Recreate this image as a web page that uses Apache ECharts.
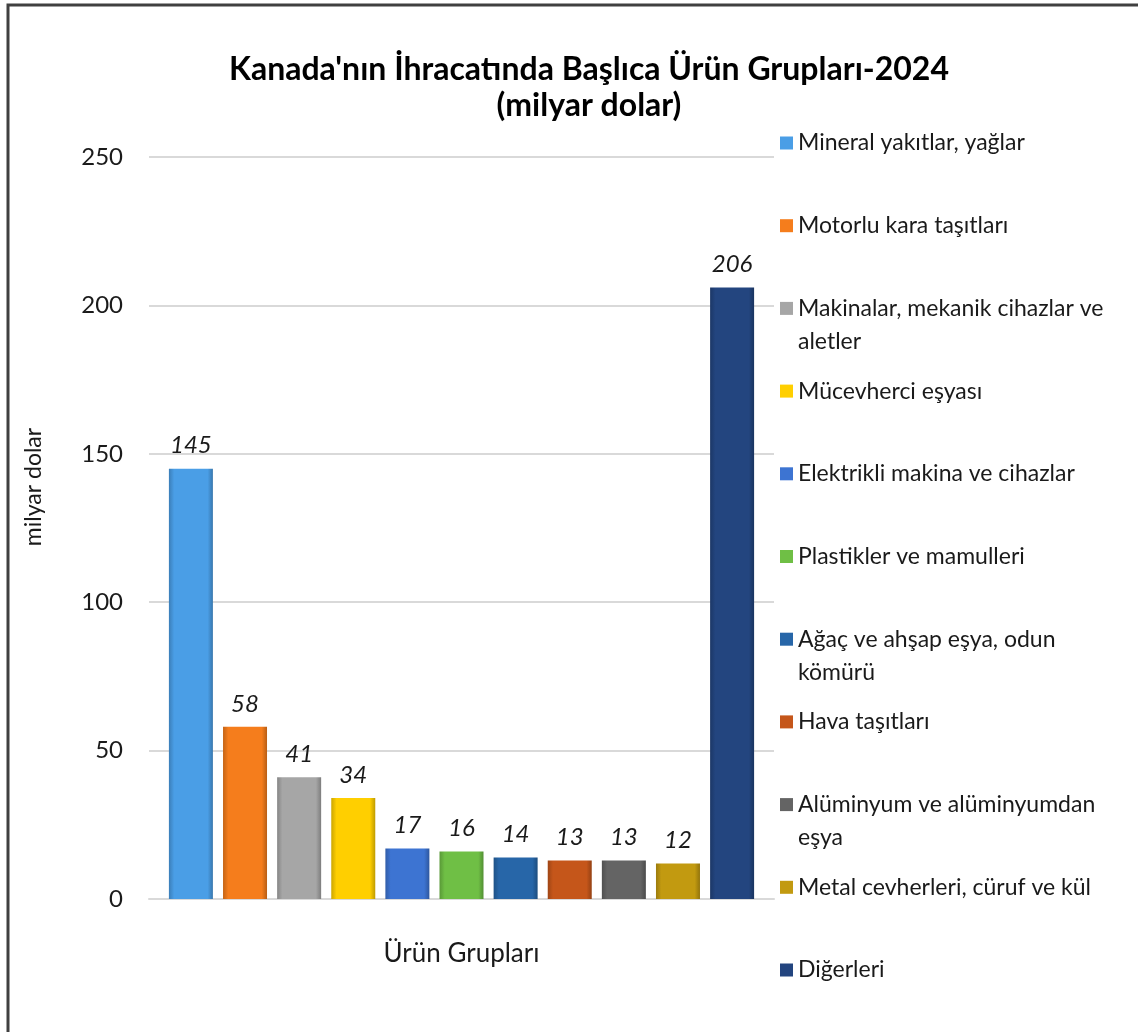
<!DOCTYPE html>
<html><head><meta charset="utf-8">
<script src="https://cdn.jsdelivr.net/npm/echarts@6/dist/echarts.min.js"></script>
<style>html,body{margin:0;padding:0;background:#fff}#c{width:1138px;height:1032px}</style>
</head><body><div id="c"></div>
<script>
const titleText = "Kanada'nın İhracatında Başlıca Ürün Grupları-2024\n(milyar dolar)";
const axisCategory = ['Ürün Grupları'];
const productGroups = [
  'Mineral yakıtlar, yağlar',
  'Motorlu kara taşıtları',
  'Makinalar, mekanik cihazlar ve aletler',
  'Mücevherci eşyası',
  'Elektrikli makina ve cihazlar',
  'Plastikler ve mamulleri',
  'Ağaç ve ahşap eşya, odun kömürü',
  'Hava taşıtları',
  'Alüminyum ve alüminyumdan eşya',
  'Metal cevherleri, cüruf ve kül',
  'Diğerleri'
];
const legendLabels = [
  'Mineral yakıtlar, yağlar',
  'Motorlu kara taşıtları',
  'Makinalar, mekanik cihazlar ve\naletler',
  'Mücevherci eşyası',
  'Elektrikli makina ve cihazlar',
  'Plastikler ve mamulleri',
  'Ağaç ve ahşap eşya, odun\nkömürü',
  'Hava taşıtları',
  'Alüminyum ve alüminyumdan\neşya',
  'Metal cevherleri, cüruf ve kül',
  'Diğerleri'
];
const exportValues = [145, 58, 41, 34, 17, 16, 14, 13, 13, 12, 206];
const yTickMin = 0, yTickMax = 250, yTickStep = 50;

const colors = ['#4a9ee6','#f57d1c','#a6a6a6','#ffcf00','#3d74d2','#6fbf45','#2766a8','#c5561a','#646464','#c29a10','#23457f'];

function shade(hex, f) {
  const n = parseInt(hex.slice(1), 16);
  let r = (n >> 16) & 255, g = (n >> 8) & 255, b = n & 255;
  r = Math.round(r * f); g = Math.round(g * f); b = Math.round(b * f);
  return 'rgb(' + Math.min(255,r) + ',' + Math.min(255,g) + ',' + Math.min(255,b) + ')';
}
function grad(c) {
  return new echarts.graphic.LinearGradient(0, 0, 1, 0, [
    {offset: 0, color: shade(c, 0.8)},
    {offset: 0.12, color: c},
    {offset: 0.88, color: c},
    {offset: 1, color: shade(c, 0.75)}
  ]);
}

const FONT = 'Lato, "Open Sans", sans-serif';
const LH = 33;

const series = productGroups.map((name, i) => ({
  name: name,
  type: 'bar',
  barWidth: 44,
  barGap: '23%',
  data: [exportValues[i]],
  itemStyle: {color: grad(colors[i])},
  label: {
    show: true, position: 'top', distance: 11,
    fontStyle: 'italic', fontSize: 24, color: '#1a1a1a', fontFamily: FONT
  },
  emphasis: {disabled: true}
}));

const legends = productGroups.map((name, i) => {
  const y0 = 143 + i * 82.7;
  const two = legendLabels[i].indexOf('\n') >= 0;
  return {
    orient: 'vertical',
    left: 780,
    top: two ? y0 - 1.5 * LH : y0 - LH / 2,
    padding: 0,
    itemWidth: 13, itemHeight: 13, itemGap: 0,
    icon: 'rect',
    selectedMode: false,
    data: [{name: name, itemStyle: {color: colors[i]}}],
    formatter: () => (two ? ' \n' : '') + legendLabels[i],
    textStyle: {fontSize: 23, color: '#1a1a1a', fontFamily: FONT, lineHeight: LH}
  };
});

const chart = echarts.init(document.getElementById('c'));
chart.setOption({
  animation: false,
  backgroundColor: '#fff',
  title: {
    text: titleText, left: 584, textAlign: 'center', top: 47,
    textStyle: {fontSize: 32, fontWeight: 'bold', color: '#000', fontFamily: FONT, lineHeight: 36}
  },
  grid: {left: 149, right: 364, top: 157, bottom: 133},
  legend: legends,
  xAxis: {
    type: 'category', data: axisCategory,
    axisLine: {show: true, lineStyle: {color: '#d9d9d9', width: 2}},
    axisTick: {show: false},
    axisLabel: {fontSize: 26, color: '#1a1a1a', fontFamily: FONT, margin: 42}
  },
  yAxis: {
    type: 'value', min: yTickMin, max: yTickMax, interval: yTickStep,
    name: 'milyar dolar', nameLocation: 'middle', nameRotate: 90, nameGap: 104,
    nameTextStyle: {fontSize: 23, color: '#1a1a1a', fontFamily: FONT, padding: [0, 0, 0, 82]},
    axisLine: {show: false}, axisTick: {show: false},
    axisLabel: {fontSize: 24, color: '#1a1a1a', fontFamily: FONT, margin: 26},
    splitLine: {lineStyle: {color: '#d9d9d9', width: 2}}
  },
  series: series,
  graphic: [{
    type: 'rect', silent: true,
    shape: {x: 8, y: 5, width: 1150, height: 1050},
    style: {fill: 'none', stroke: '#404040', lineWidth: 3}
  }]
});
</script></body></html>
